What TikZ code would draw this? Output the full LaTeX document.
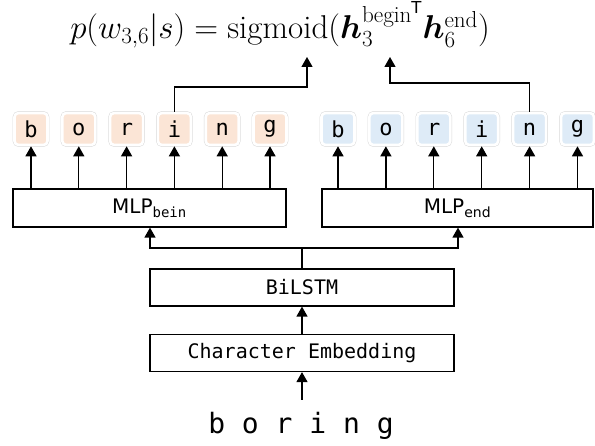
\RequirePackage{fix-cm}
\documentclass[tikz,border=0pt]{standalone}
\usepackage{fontspec}
\usepackage{amsmath,bm}
\setmonofont{DejaVu Sans Mono}
\setsansfont{DejaVu Sans}
\usetikzlibrary{arrows.meta}
\definecolor{chbeg}{HTML}{FBE5D6}
\definecolor{chend}{HTML}{DEEBF7}
\begin{document}
\begin{tikzpicture}[
    x=1pt, y=-1pt,
    arr/.style={line width=1.3pt, -{Triangle[length=10pt,width=11pt]}},
    ln/.style={line width=1.3pt},
    layer/.style={rectangle, draw, line width=1.2pt, inner sep=0pt, font=\fontsize{20}{22}\selectfont\ttfamily},
    ch/.style={rectangle, rounded corners=4pt, draw=white, line width=2.6pt, preaction={draw=black!15, line width=3.6pt},
        minimum width=33pt, minimum height=32pt, inner sep=0pt, font=\fontsize{22}{24}\selectfont\ttfamily}
]
    \useasboundingbox (0,0) rectangle (595,446);

    % Formula
    \node[anchor=base, inner sep=0pt] (score) at (280,39) {\fontsize{33}{36}\selectfont
        $p(w_{3,6}|s)=\mathrm{sigmoid}(\bm{h}_3^{\mathrm{begin}^{\mathsf{T}}}\bm{h}_6^{\mathrm{end}})$};
    \coordinate (hbeg) at (307,57);
    \coordinate (hend) at (390,57);

    % Encoder
    \node[layer, minimum width=304pt, minimum height=37pt] (emb) at (302,353) {Character Embedding};
    \node[layer, minimum width=304pt, minimum height=37pt] (lstm) at (302,287.5) {BiLSTM};
    \node[layer, minimum width=273pt, minimum height=38pt] (mlpb) at (149.5,208)
        {\sffamily MLP\textsubscript{\ttfamily bein}};
    \node[layer, minimum width=271pt, minimum height=38pt] (mlpe) at (457.5,208)
        {\sffamily MLP\textsubscript{end}};
    \node[font=\fontsize{28}{30}\selectfont\ttfamily] (word) at (301,426) {b o r i n g};
    \coordinate (split) at (302,248);

    % Character boxes
    \foreach \c [count=\i] in {b,o,r,i,n,g} {
        \node[ch, fill=chbeg] (cb\i) at ({31+(\i-1)*47.8},129) {\c};
        \node[ch, fill=chend] (ce\i) at ({338+(\i-1)*47.9},129) {\c};
        \draw[arr] (cb\i |- mlpb.north) -- (cb\i.south);
        \draw[arr] (ce\i |- mlpe.north) -- (ce\i.south);
    }

    % Connections
    \draw[arr] (emb.south |- 0,400) -- (emb.south);
    \draw[arr] (emb.north) -- (lstm.south);
    \draw[ln] (lstm.north) -- (split);
    \draw[arr] (split) -| (150,0 |- mlpb.south);
    \draw[arr] (split) -| (458,0 |- mlpe.south);
    \draw[arr] (cb4.north) -- (cb4.north |- 0,87) -| (hbeg);
    \draw[arr] (ce5.north) -- (ce5.north |- 0,83) -| (hend);
\end{tikzpicture}
\end{document}
